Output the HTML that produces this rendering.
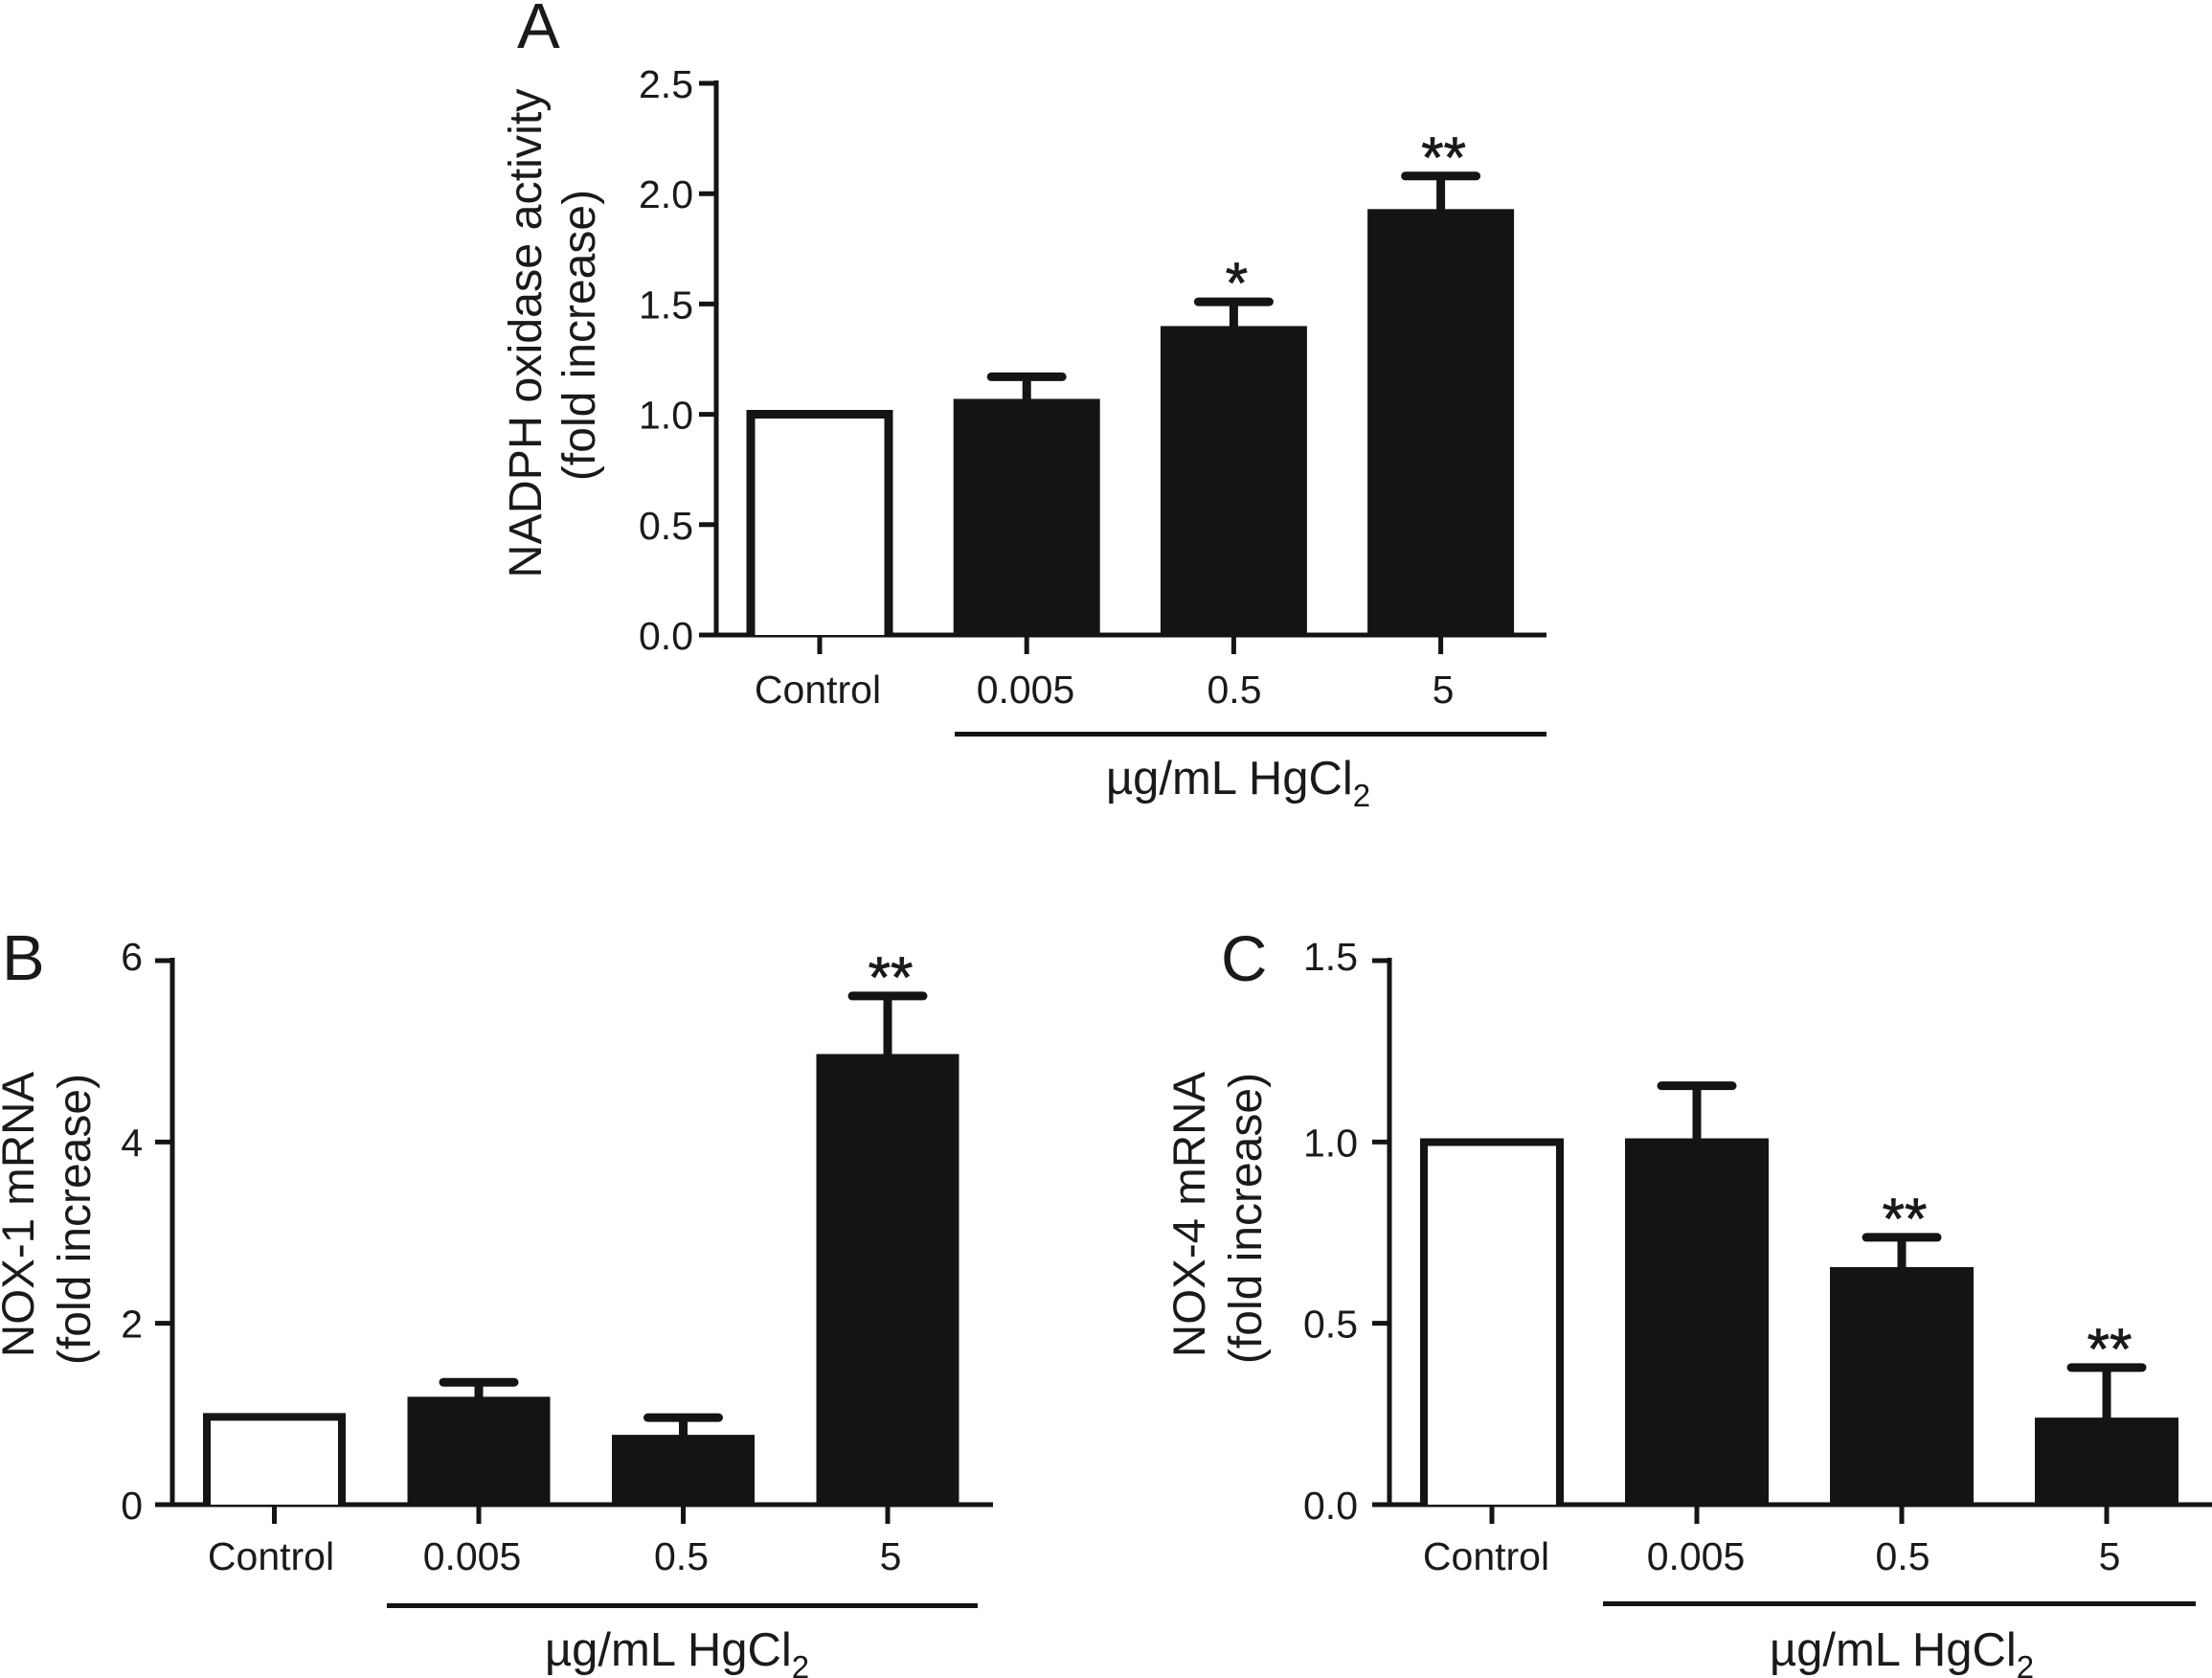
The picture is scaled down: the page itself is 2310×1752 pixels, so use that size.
<!DOCTYPE html>
<html lang="en">
<head>
<meta charset="utf-8">
<title>NADPH oxidase activity and NOX mRNA</title>
<style>
html,body{margin:0;padding:0;background:#fff;}
svg{display:block;}
text{font-family:"Liberation Sans",sans-serif;fill:#1a1a1a;}
</style>
</head>
<body>
<svg id="figure" width="2310" height="1752" viewBox="0 0 2310 1752" xmlns="http://www.w3.org/2000/svg">
  <rect width="2310" height="1752" fill="#fff"/>

  <g id="panel-a">
    <text x="540" y="50" font-size="67">A</text>
    <text transform="translate(565,348) rotate(-90)" text-anchor="middle" font-size="48.4">NADPH oxidase activity</text>
    <text transform="translate(621,350) rotate(-90)" text-anchor="middle" font-size="48">(fold increase)</text>
    <rect x="997" y="764" width="618" height="5" fill="#141414"/>
    <text x="1293" y="829" text-anchor="middle" font-size="49">µg/mL HgCl<tspan font-size="33" dy="13">2</tspan></text>
  </g>

  <g id="panel-b">
    <text x="2" y="1023" font-size="67">B</text>
    <text transform="translate(35,1268) rotate(-90)" text-anchor="middle" font-size="47.5">NOX-1 mRNA</text>
    <text transform="translate(94,1273) rotate(-90)" text-anchor="middle" font-size="48">(fold increase)</text>
    <rect x="404" y="1674" width="617" height="5" fill="#141414"/>
    <text x="707" y="1739" text-anchor="middle" font-size="49">µg/mL HgCl<tspan font-size="33" dy="13">2</tspan></text>
  </g>

  <g id="panel-c">
    <text x="1275" y="1024" font-size="67">C</text>
    <text transform="translate(1258,1268) rotate(-90)" text-anchor="middle" font-size="47.5">NOX-4 mRNA</text>
    <text transform="translate(1317,1272) rotate(-90)" text-anchor="middle" font-size="48">(fold increase)</text>
    <rect x="1674" y="1672" width="619" height="5" fill="#141414"/>
    <text x="1986" y="1739" text-anchor="middle" font-size="49">µg/mL HgCl<tspan font-size="33" dy="13">2</tspan></text>
  </g>
</svg>

<script>
const categories = ['Control', '0.005', '0.5', '5'];

const ticksA = ['0.0', '0.5', '1.0', '1.5', '2.0', '2.5'];
const valuesA = [1.02, 1.07, 1.40, 1.93];
const errorTopsA = [null, 1.17, 1.51, 2.08];
const starsA = ['', '', '*', '**'];

const ticksB = ['0', '2', '4', '6'];
const valuesB = [1.01, 1.19, 0.77, 4.97];
const errorTopsB = [null, 1.35, 0.96, 5.61];
const starsB = ['', '', '', '**'];

const ticksC = ['0.0', '0.5', '1.0', '1.5'];
const valuesC = [1.01, 1.01, 0.655, 0.24];
const errorTopsC = [null, 1.155, 0.737, 0.378];
const starsC = ['', '', '**', '**'];

const NS = 'http://www.w3.org/2000/svg';
const INK = '#141414';

function make(parent, tag, attrs) {
  const el = document.createElementNS(NS, tag);
  for (const k in attrs) el.setAttribute(k, attrs[k]);
  parent.appendChild(el);
  return el;
}

function drawPanel(panel) {
  const root = document.getElementById(panel.id);
  const yOf = v => panel.y0 - (v - panel.yMinVal) / (panel.yMaxVal - panel.yMinVal) * (panel.y0 - panel.yTop);
  const xOf = i => panel.x0 + i * panel.step;
  const xLabelOf = i => i === 0 ? panel.controlLabelX : panel.doseLabelX0 + (i - 1) * panel.doseLabelStep;

  const yAxis = make(root, 'line', {x1: panel.axisX, x2: panel.axisX, y1: panel.yTop - 3, y2: panel.y0 + 2, stroke: INK, 'stroke-width': 5});
  
  

  const xAxis = make(root, 'line', {x1: panel.axisX - 18, x2: panel.axisEnd, y1: panel.y0, y2: panel.y0, stroke: INK, 'stroke-width': 5});
  
  

  panel.ticks.forEach((label, i) => {
    const value = parseFloat(label);
    const y = yOf(value);
    const tick = make(root, 'line', {x1: panel.axisX - 18, x2: panel.axisX, y1: y, y2: y, stroke: INK, 'stroke-width': 5});
    
    
    const shift = i === panel.ticks.length - 1 ? panel.topLabelShift : 0;
    const txt = make(root, 'text', {x: panel.labelRight, y: y + 15 + shift, 'text-anchor': 'end', 'font-size': 41});
    txt.textContent = label;
    
    
  });

  categories.forEach((cat, i) => {
    const cx = xOf(i);
    const top = yOf(panel.values[i]);
    const w = panel.barWidth;

    if (i === 0) {
      const s = panel.strokeW;
      const left = cx - w / 2 + s / 2;
      const right = cx + w / 2 - s / 2;
      const midTop = top + s / 2;
      const bar = make(root, 'path', {d: 'M' + left + ' ' + panel.y0 + 'V' + midTop + 'H' + right + 'V' + panel.y0, fill: '#fff', stroke: INK, 'stroke-width': s});
      
      
    } else {
      const bar = make(root, 'rect', {x: cx - w / 2, y: top, width: w, height: panel.y0 - top + 1, fill: INK});
      
      
    }

    if (panel.errorTops[i] !== null) {
      const capY = yOf(panel.errorTops[i]);
      const stem = make(root, 'line', {x1: cx, x2: cx, y1: capY, y2: top + 1, stroke: INK, 'stroke-width': 9});
      
      
      const cap = make(root, 'line', {x1: cx - 37, x2: cx + 37, y1: capY, y2: capY, stroke: INK, 'stroke-width': 9, 'stroke-linecap': 'round'});
      
      
      if (panel.stars[i]) {
        const star = make(root, 'text', {x: cx + 3, y: capY + 1, 'text-anchor': 'middle', 'font-size': 60, stroke: '#1a1a1a', 'stroke-width': 0.8});
        star.textContent = panel.stars[i];
        
        
      }
    }

    const tick = make(root, 'line', {x1: cx, x2: cx, y1: panel.y0, y2: panel.y0 + 20, stroke: INK, 'stroke-width': 5});
    
    

    const label = make(root, 'text', {x: xLabelOf(i), y: panel.labelBaseline, 'text-anchor': 'middle', 'font-size': 41});
    label.textContent = cat;
    
    
  });
}

drawPanel({id: 'panel-a', ticks: ticksA, values: valuesA, errorTops: errorTopsA, stars: starsA,
  yMinVal: 0, yMaxVal: 2.5, y0: 663, yTop: 87, axisX: 748, axisEnd: 1615, x0: 856, step: 216.2, barWidth: 153, strokeW: 9,
  labelRight: 724, labelBaseline: 734, controlLabelX: 854, doseLabelX0: 1071, doseLabelStep: 218, topLabelShift: 0});

drawPanel({id: 'panel-b', ticks: ticksB, values: valuesB, errorTops: errorTopsB, stars: starsB,
  yMinVal: 0, yMaxVal: 6, y0: 1571, yTop: 1003, axisX: 180, axisEnd: 1037, x0: 286.5, step: 213.5, barWidth: 149, strokeW: 8,
  labelRight: 149, labelBaseline: 1639, controlLabelX: 283, doseLabelX0: 493, doseLabelStep: 218.5, topLabelShift: -5});

drawPanel({id: 'panel-c', ticks: ticksC, values: valuesC, errorTops: errorTopsC, stars: starsC,
  yMinVal: 0, yMaxVal: 1.5, y0: 1571, yTop: 1003, axisX: 1451, axisEnd: 2310, x0: 1558, step: 214, barWidth: 150, strokeW: 8,
  labelRight: 1418, labelBaseline: 1639, controlLabelX: 1552, doseLabelX0: 1771, doseLabelStep: 216, topLabelShift: -5});
</script>
</body>
</html>
